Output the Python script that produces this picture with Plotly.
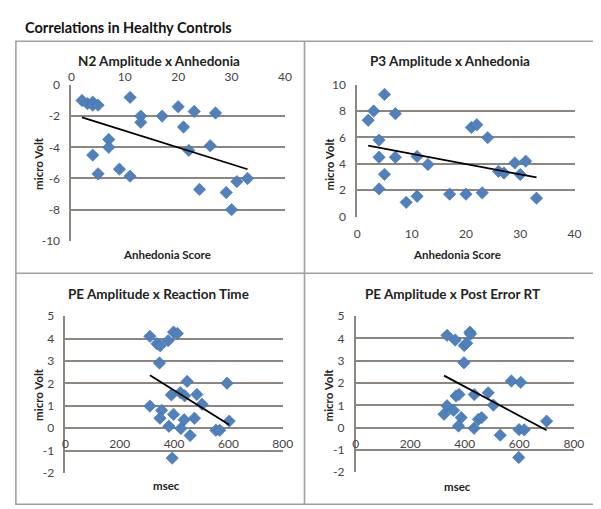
import numpy as np
import plotly.graph_objects as go

W, H = 601, 509

# ---------------- data ----------------
n2_anhedonia = [2, 3, 4, 4, 5, 11, 13, 13, 17, 20, 21, 23, 27, 7, 7, 4, 5, 9, 11, 22, 26, 24, 29, 30, 31, 33]
n2_amplitude = [-1.0, -1.2, -1.1, -1.3, -1.3, -0.8, -2.0, -2.4, -2.0, -1.4, -2.7, -1.7, -1.8,
                -3.5, -4.0, -4.5, -5.7, -5.4, -5.85, -4.2, -3.9, -6.7, -6.9, -8.0, -6.2, -6.0]

p3_anhedonia = [2, 3, 5, 7, 4, 4, 7, 4, 5, 9, 11, 11, 13, 17, 20, 21, 22, 23, 24, 26, 27, 29, 30, 31, 33]
p3_amplitude = [7.3, 8.0, 9.26, 7.8, 5.8, 4.5, 4.5, 2.1, 3.2, 1.08, 4.56, 1.54, 3.95, 1.7, 1.7,
                6.76, 6.96, 1.8, 5.98, 3.43, 3.3, 4.07, 3.19, 4.2, 1.4]

pe_rt = [311, 337, 349, 378, 398, 412, 346, 448, 595, 311, 354, 348, 390, 423, 439, 484, 503,
         398, 437, 475, 381, 425, 459, 554, 568, 603, 393]
pe_rt_amp = [4.1, 3.77, 3.68, 3.91, 4.29, 4.23, 2.91, 2.09, 2.01, 0.99, 0.80, 0.45, 1.49, 1.59,
             1.45, 1.51, 1.07, 0.62, 0.38, 0.45, 0.09, -0.01, -0.32, -0.09, -0.09, 0.32, -1.33]

pe_post = [335, 365, 398, 407, 419, 421, 397, 571, 605, 324, 335, 359, 368, 379, 387, 377, 435,
           434, 450, 462, 486, 505, 530, 599, 618, 700, 598]
pe_post_amp = [4.14, 3.93, 3.68, 3.79, 4.28, 4.2, 2.91, 2.09, 2.03, 0.6, 0.98, 0.77, 1.42, 1.49,
               0.45, 0.07, 1.48, -0.03, 0.37, 0.45, 1.56, 1.01, -0.34, -0.09, -0.1, 0.29, -1.34]

titles = ["N2 Amplitude x Anhedonia", "P3 Amplitude x Anhedonia",
          "PE Amplitude x Reaction Time", "PE Amplitude x Post Error RT"]
x_titles = ["Anhedonia Score", "Anhedonia Score", "msec", "msec"]
y_title = "micro Volt"
main_title = "Correlations in Healthy Controls"

# tick values per panel
x_ticks = [[0, 10, 20, 30, 40], [0, 10, 20, 30, 40], [0, 200, 400, 600, 800], [0, 200, 400, 600, 800]]
y_ticks = [[0, -2, -4, -6, -8, -10], [0, 2, 4, 6, 8, 10],
           [5, 4, 3, 2, 1, 0, -1, -2], [5, 4, 3, 2, 1, 0, -1, -2]]

# ---------------- style ----------------
FONT = "Lato, 'Open Sans', sans-serif"
BLUE = "#4F81BD"
GRID = "#8C8580"
BORDER = "#A0A0A0"
TXT = "#444444"


def px_x(p):
    return p / W


def px_y(p):
    return 1 - p / H


# plot-area pixel boxes: (left, right, top, bottom)
boxes = [
    (61.7, 280.0, 71.0, 231.7),
    (354.0, 576.0, 70.7, 206.7),
    (55.7, 277.7, 309.3, 471.0),
    (352.3, 575.3, 309.3, 470.0),
]
xranges = [[0, 40], [0, 40], [0, 800], [0, 800]]
yranges = [[-10, 0], [0, 10], [-2, 5], [-2, 5]]

datasets = [
    (n2_anhedonia, n2_amplitude),
    (p3_anhedonia, p3_amplitude),
    (pe_rt, pe_rt_amp),
    (pe_post, pe_post_amp),
]

fig = go.Figure()
layout = dict(
    width=W, height=H,
    margin=dict(l=0, r=0, t=0, b=0),
    paper_bgcolor="white", plot_bgcolor="white",
    showlegend=False,
    font=dict(family=FONT, color=TXT, size=12),
)
annotations = []
shapes = []

for i, ((xs, ys), (l, r, t, b)) in enumerate(zip(datasets, boxes)):
    k = "" if i == 0 else str(i + 1)
    xa, ya = "x" + k, "y" + k
    fig.add_trace(go.Scatter(
        x=xs, y=ys, mode="markers", xaxis=xa, yaxis=ya,
        marker=dict(symbol="diamond", size=9.5, color=BLUE,
                    line=dict(width=0.6, color="#3F6FA8")),
    ))
    # linear trendline (least squares of the series)
    slope, icpt = np.polyfit(np.array(xs, float), np.array(ys, float), 1)
    tx = np.array([min(xs), max(xs)], float)
    fig.add_trace(go.Scatter(
        x=tx, y=slope * tx + icpt, mode="lines", xaxis=xa, yaxis=ya,
        line=dict(color="black", width=1.8),
    ))

    yd = [px_y(b), px_y(t)]
    y0, y1 = yranges[i]
    xaxis = dict(
        domain=[px_x(l), px_x(r)], range=xranges[i],
        tickmode="array", tickvals=x_ticks[i], ticktext=[str(v) for v in x_ticks[i]],
        showgrid=False, zeroline=False, showline=False, ticks="",
        tickfont=dict(family=FONT, size=12, color=TXT),
        fixedrange=True,
    )
    if i == 0:
        xaxis.update(anchor=ya, side="top", ticklabelstandoff=1)
    elif i == 1:
        xaxis.update(anchor=ya, side="bottom", ticklabelstandoff=8)
    else:
        zero_pos = yd[0] + (yd[1] - yd[0]) * (0 - y0) / (y1 - y0)
        xaxis.update(anchor="free", position=zero_pos, side="bottom", ticklabelstandoff=7)
    yaxis = dict(
        domain=yd, range=yranges[i],
        tickmode="array", tickvals=y_ticks[i], ticktext=[str(v) for v in y_ticks[i]],
        anchor=xa, showgrid=True, gridcolor=GRID, gridwidth=1.8,
        zeroline=False, showline=True, linecolor=GRID, linewidth=1.8,
        ticks="", ticklabelstandoff=7,
        tickfont=dict(family=FONT, size=12, color=TXT),
        fixedrange=True,
    )
    layout["xaxis" + k] = xaxis
    layout["yaxis" + k] = yaxis

# panel titles
title_pos = [(151.7, 46), (449, 46), (151, 286), (451.7, 286)]
for (x, y), tt in zip(title_pos, titles):
    annotations.append(dict(text="<b>%s</b>" % tt, x=px_x(x), y=px_y(y), xref="paper", yref="paper",
                            showarrow=False, xanchor="center", yanchor="middle",
                            font=dict(family=FONT, size=13.5, color="#222222")))
# x-axis titles
xt_pos = [(159, 246), (456, 246), (159, 484), (456, 485)]
for (x, y), tt in zip(xt_pos, x_titles):
    annotations.append(dict(text="<b>%s</b>" % tt, x=px_x(x), y=px_y(y), xref="paper", yref="paper",
                            showarrow=False, xanchor="center", yanchor="middle",
                            font=dict(family=FONT, size=11.5, color="#222222")))
# y-axis titles
yt_pos = [(28, 152), (326, 152), (28, 390), (325, 390)]
for (x, y) in yt_pos:
    annotations.append(dict(text="<b>%s</b>" % y_title, x=px_x(x), y=px_y(y), xref="paper", yref="paper",
                            showarrow=False, xanchor="center", yanchor="middle", textangle=-90,
                            font=dict(family=FONT, size=11.5, color="#222222")))
# main title
annotations.append(dict(text="<b>%s</b>" % main_title, x=px_x(12), y=px_y(12), xref="paper", yref="paper",
                        showarrow=False, xanchor="left", yanchor="middle",
                        font=dict(family=FONT, size=14.5, color="#111111")))

# panel frame
frame = dict(type="line", xref="paper", yref="paper", line=dict(color=BORDER, width=1.6))
shapes.append(dict(type="rect", xref="paper", yref="paper",
                   x0=px_x(5), x1=px_x(597), y0=px_y(503), y1=px_y(26),
                   line=dict(color=BORDER, width=1.6)))
shapes.append(dict(frame, x0=px_x(300), x1=px_x(300), y0=px_y(503), y1=px_y(26)))
shapes.append(dict(frame, x0=px_x(5), x1=px_x(597), y0=px_y(265), y1=px_y(265)))

layout["annotations"] = annotations
layout["shapes"] = shapes
fig.update_layout(**layout)
fig.write_html("out.html")
